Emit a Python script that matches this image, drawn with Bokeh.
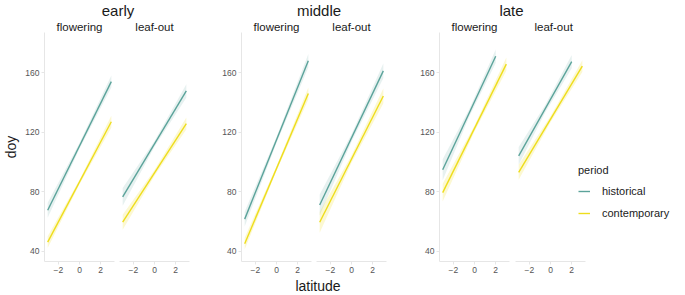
from bokeh.plotting import figure
from bokeh.layouts import row, column
from bokeh.models import Range1d, FixedTicker, Legend, LegendItem
from bokeh.embed import file_html
from bokeh.resources import INLINE

# ---------------- data ----------------
groups = ["early", "middle", "late"]
facets = ["flowering", "leaf-out"]
periods = ["historical", "contemporary"]
x_tick_values = [-2, 0, 2]
y_tick_values = [40, 80, 120, 160]

# panel order: early-flowering, early-leaf-out, middle-flowering,
#              middle-leaf-out, late-flowering, late-leaf-out
hist_x_start = [-3, -3, -3, -3, -3, -3]
hist_x_end = [3, 3, 3, 3, 2, 2]
hist_y_start = [67.5, 76.5, 61.5, 71.0, 94.7, 104.0]
hist_y_end = [154.0, 147.7, 168.0, 161.2, 171.0, 167.4]
# ribbon half-widths at start, middle, end of each fitted line
hist_ci = [[5, 2, 4], [6, 2, 4.5], [5, 2, 4.5], [7, 2.5, 5], [7, 2.5, 4.5], [6, 2.5, 4.5]]

cont_x_start = [-3, -3, -3, -3, -3, -3]
cont_x_end = [3, 3, 3, 3, 3, 3]
cont_y_start = [46.0, 59.4, 45.0, 59.4, 79.3, 93.0]
cont_y_end = [127.0, 125.8, 146.0, 144.3, 165.7, 164.4]
cont_ci = [[4, 1.5, 4], [5, 2, 4], [4, 1.5, 4], [7, 2.5, 5], [6, 2, 4.5], [5, 2, 4]]

# ---------------- style ----------------
FONT = "Liberation Sans"
TEAL = "#5ba39a"
YELLOW = "#eedd1c"
AXIS_GREY = "#e6e6e6"
TEXT = "#1a1a1a"
TICK_TEXT = "#555555"

STRIP_H = 18
FRAME_H = 229
X_RANGE = (-3.3, 3.3)
Y_RANGE = (33, 187)

FRAME_W = 70
LEGEND_W = 86          # extra drawing room right of the last panel for the legend
# left/right borders for the six panels
borders = [(40, 2), (3, 3), (49, 2), (3, 3), (50, 2), (4, 0)]


def add_series(p, xs, xe, ys, ye, ci, color, band_alpha):
    xm = (xs + xe) / 2.0
    ym = (ys + ye) / 2.0
    bx = [xs, xm, xe]
    fit = [ys, ym, ye]
    lo = [f - h for f, h in zip(fit, ci)]
    hi = [f + h for f, h in zip(fit, ci)]
    p.varea(x=bx, y1=lo, y2=hi, fill_color=color, fill_alpha=band_alpha)
    return p.line(x=[xs, xe], y=[ys, ye], line_color=color, line_width=1.4)


def style_axis(ax):
    ax.axis_line_color = AXIS_GREY
    ax.axis_line_width = 1
    ax.major_tick_line_color = AXIS_GREY
    ax.minor_tick_line_color = None
    ax.major_tick_out = 3
    ax.major_tick_in = 0
    ax.major_label_text_font = FONT
    ax.major_label_text_font_size = "8.5px"
    ax.major_label_text_color = TICK_TEXT
    ax.major_label_standoff = 2


panels = []
widths = []
hist_lines = []
cont_lines = []
for i in range(6):
    facet = facets[i % 2]
    show_y = (i % 2 == 0)
    L, R = borders[i]
    fw = FRAME_W
    xr = Range1d(*X_RANGE)
    if i == 5:
        # widen the drawing frame so the legend has room; data keeps the same scale
        fw = FRAME_W + LEGEND_W
        span = X_RANGE[1] - X_RANGE[0]
        xr = Range1d(X_RANGE[0], X_RANGE[0] + span * fw / FRAME_W)
    p = figure(frame_width=fw, frame_height=FRAME_H,
               x_range=xr, y_range=Range1d(*Y_RANGE),
               output_backend="svg", toolbar_location=None,
               y_axis_location="left" if show_y else None,
               min_border_left=L, min_border_right=R,
               min_border_top=12, min_border_bottom=14,
               title=facet)
    widths.append(L + fw + R)
    if i == 5:
        p.title.align = "left"
        p.title.offset = FRAME_W / 2.0 - 16
    else:
        p.title.align = "center"
        p.title.offset = 0
    p.title.text_font = FONT
    p.title.text_font_size = "11.5px"
    p.title.text_font_style = "normal"
    p.title.text_color = TEXT
    p.title.standoff = 0
    p.outline_line_color = None
    p.xgrid.visible = False
    p.ygrid.visible = False
    p.xaxis.ticker = FixedTicker(ticks=x_tick_values)
    p.xaxis.bounds = X_RANGE
    style_axis(p.xaxis[0])
    if show_y:
        p.yaxis.ticker = FixedTicker(ticks=y_tick_values)
        style_axis(p.yaxis[0])
        if i == 0:
            p.yaxis.axis_label = "doy"
            p.yaxis.axis_label_text_font = FONT
            p.yaxis.axis_label_text_font_size = "14px"
            p.yaxis.axis_label_text_font_style = "normal"
            p.yaxis.axis_label_text_color = TEXT
            p.yaxis.axis_label_standoff = 3

    h = add_series(p, hist_x_start[i], hist_x_end[i], hist_y_start[i], hist_y_end[i],
                   hist_ci[i], TEAL, 0.15)
    c = add_series(p, cont_x_start[i], cont_x_end[i], cont_y_start[i], cont_y_end[i],
                   cont_ci[i], YELLOW, 0.2)
    hist_lines.append(h)
    cont_lines.append(c)
    panels.append(p)

legend = Legend(items=[LegendItem(label=periods[0], renderers=[hist_lines[5]]),
                       LegendItem(label=periods[1], renderers=[cont_lines[5]])],
                title="period", location=(63, 38),
                glyph_width=12, glyph_height=20, label_height=20,
                label_standoff=12, spacing=2, padding=0, margin=0,
                title_standoff=5,
                label_text_font=FONT, label_text_font_size="11px",
                label_text_color=TEXT,
                title_text_font=FONT, title_text_font_size="11px",
                title_text_font_style="normal", title_text_color=TEXT,
                background_fill_alpha=0, border_line_alpha=0)
panels[5].add_layout(legend)


def strip(text, width, L, R, size):
    s = figure(width=width, height=STRIP_H, x_range=Range1d(0, 1), y_range=Range1d(0, 1),
               output_backend="svg", toolbar_location=None,
               x_axis_location=None, y_axis_location=None,
               min_border_left=L, min_border_right=R,
               min_border_top=0, min_border_bottom=0, title=text)
    s.title.align = "center"
    s.title.text_font = FONT
    s.title.text_font_size = size
    s.title.text_font_style = "normal"
    s.title.text_color = TEXT
    s.title.standoff = 0
    s.title.offset = 0
    s.outline_line_color = None
    s.xgrid.visible = False
    s.ygrid.visible = False
    return s


strip_early = strip(groups[0], widths[0] + widths[1], 47, 0, "15px")
strip_middle = strip(groups[1], widths[2] + widths[3], 64, 0, "15px")
strip_late = strip(groups[2], widths[4] + widths[5], 0, 30, "15px")
total_w = sum(widths)
strip_lat = strip("latitude", total_w, 0, 32, "14px")

layout = column(
    row(strip_early, strip_middle, strip_late),
    row(*panels),
    strip_lat,
)

open("out.html", "w").write(file_html(layout, INLINE))
